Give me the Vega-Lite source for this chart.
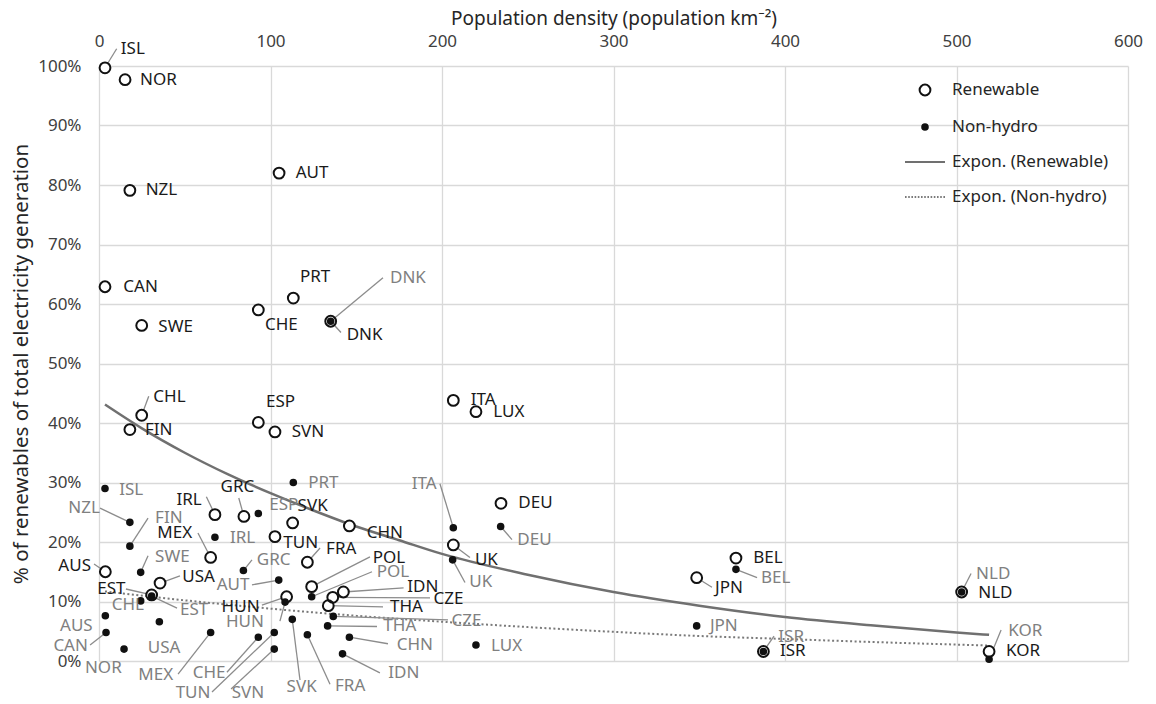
{
  "$schema": "https://vega.github.io/schema/vega-lite/v6.json",
  "width": 1029,
  "height": 595,
  "autosize": {"type": "none"},
  "padding": {"left": 99, "top": 66, "right": 28, "bottom": 43},
  "background": "white",
  "config": {
    "font": "Noto Sans",
    "view": {"stroke": null},
    "axis": {
      "grid": true,
      "gridColor": "#d9d9d9",
      "gridWidth": 1.3,
      "domain": false,
      "ticks": false,
      "labelFlush": false,
      "labelFontSize": 17,
      "labelColor": "#404040",
      "titleFontSize": 19,
      "titleFontWeight": "normal",
      "titleColor": "#262626"
    },
    "legend": {
      "orient": "none",
      "legendX": 805,
      "legendY": 3,
      "labelFontSize": 17,
      "labelColor": "#262626",
      "labelOffset": 6,
      "symbolSize": 1600,
      "symbolStrokeWidth": 2,
      "rowPadding": 6
    }
  },
  "datasets": {
    "pts": [
      {"country": "ISL", "series": "Renewable", "density": 3.5, "share": 99.7, "lx": 12.7, "ly": 102.8, "ex": 10.3, "ey": 102.9},
      {"country": "NOR", "series": "Renewable", "density": 15.2, "share": 97.7, "lx": 23.9, "ly": 97.7},
      {"country": "NZL", "series": "Renewable", "density": 18.0, "share": 79.1, "lx": 27.2, "ly": 79.1},
      {"country": "AUT", "series": "Renewable", "density": 105.0, "share": 82.0, "lx": 114.7, "ly": 82.0},
      {"country": "CAN", "series": "Renewable", "density": 3.5, "share": 62.9, "lx": 14.2, "ly": 62.9},
      {"country": "SWE", "series": "Renewable", "density": 24.9, "share": 56.4, "lx": 34.6, "ly": 56.2},
      {"country": "CHE", "series": "Renewable", "density": 92.9, "share": 59.0, "lx": 96.8, "ly": 56.5},
      {"country": "PRT", "series": "Renewable", "density": 113.3, "share": 61.0, "lx": 117.2, "ly": 64.5},
      {"country": "DNK", "series": "Renewable", "density": 135.1, "share": 57.1, "lx": 144.4, "ly": 54.8, "ex": 141.1, "ey": 55.2},
      {"country": "CHL", "series": "Renewable", "density": 24.9, "share": 41.3, "lx": 31.7, "ly": 44.4, "ex": 29.0, "ey": 44.5},
      {"country": "FIN", "series": "Renewable", "density": 18.0, "share": 38.9, "lx": 26.8, "ly": 38.9},
      {"country": "ESP", "series": "Renewable", "density": 92.9, "share": 40.1, "lx": 97.4, "ly": 43.6},
      {"country": "SVN", "series": "Renewable", "density": 102.6, "share": 38.5, "lx": 112.4, "ly": 38.5},
      {"country": "ITA", "series": "Renewable", "density": 206.6, "share": 43.8, "lx": 216.7, "ly": 43.8},
      {"country": "LUX", "series": "Renewable", "density": 219.8, "share": 41.9, "lx": 229.9, "ly": 41.9},
      {"country": "DEU", "series": "Renewable", "density": 234.4, "share": 26.5, "lx": 244.5, "ly": 26.5},
      {"country": "IRL", "series": "Renewable", "density": 67.6, "share": 24.6, "lx": 45.2, "ly": 27.1, "ex": 62.6, "ey": 27.6},
      {"country": "GRC", "series": "Renewable", "density": 84.5, "share": 24.3, "lx": 70.9, "ly": 29.3, "ex": 81.5, "ey": 27.4},
      {"country": "SVK", "series": "Renewable", "density": 112.9, "share": 23.2, "lx": 115.8, "ly": 26.0},
      {"country": "CHN", "series": "Renewable", "density": 146.0, "share": 22.7, "lx": 156.1, "ly": 21.5},
      {"country": "TUN", "series": "Renewable", "density": 102.6, "share": 20.9, "lx": 107.5, "ly": 19.9},
      {"country": "MEX", "series": "Renewable", "density": 65.1, "share": 17.4, "lx": 34.0, "ly": 21.5, "ex": 57.7, "ey": 21.5},
      {"country": "FRA", "series": "Renewable", "density": 121.5, "share": 16.6, "lx": 132.4, "ly": 18.8, "ex": 128.9, "ey": 19.0},
      {"country": "AUS", "series": "Renewable", "density": 3.7, "share": 15.0, "lx": -23.7, "ly": 16.0, "ex": -2.9, "ey": 16.3},
      {"country": "USA", "series": "Renewable", "density": 35.6, "share": 13.1, "lx": 48.6, "ly": 14.2, "ex": 47.2, "ey": 14.3},
      {"country": "EST", "series": "Renewable", "density": 30.7, "share": 11.1, "lx": -1.0, "ly": 12.1, "ex": 15.7, "ey": 12.1},
      {"country": "POL", "series": "Renewable", "density": 124.0, "share": 12.5, "lx": 159.6, "ly": 17.3, "ex": 158.0, "ey": 17.5},
      {"country": "HUN", "series": "Renewable", "density": 109.4, "share": 10.8, "lx": 71.5, "ly": 9.1, "ex": 95.0, "ey": 9.4},
      {"country": "IDN", "series": "Renewable", "density": 142.5, "share": 11.6, "lx": 179.8, "ly": 12.4, "ex": 177.6, "ey": 12.3},
      {"country": "CZE", "series": "Renewable", "density": 136.3, "share": 10.7, "lx": 195.0, "ly": 10.4, "ex": 193.0, "ey": 10.6},
      {"country": "THA", "series": "Renewable", "density": 133.7, "share": 9.3, "lx": 169.7, "ly": 9.1, "ex": 165.6, "ey": 9.1},
      {"country": "UK", "series": "Renewable", "density": 206.6, "share": 19.5, "lx": 219.2, "ly": 17.0, "ex": 216.3, "ey": 17.4},
      {"country": "JPN", "series": "Renewable", "density": 348.5, "share": 14.0, "lx": 359.2, "ly": 12.3, "ex": 357.4, "ey": 12.4},
      {"country": "BEL", "series": "Renewable", "density": 371.4, "share": 17.3, "lx": 381.5, "ly": 17.3},
      {"country": "NLD", "series": "Renewable", "density": 503.0, "share": 11.6, "lx": 512.7, "ly": 11.4},
      {"country": "ISR", "series": "Renewable", "density": 387.4, "share": 1.6, "lx": 397.1, "ly": 1.6},
      {"country": "KOR", "series": "Renewable", "density": 519.0, "share": 1.6, "lx": 528.9, "ly": 1.6},
      {"country": "ISL", "series": "Non-hydro", "density": 3.5, "share": 29.0, "lx": 11.8, "ly": 28.8},
      {"country": "NZL", "series": "Non-hydro", "density": 18.0, "share": 23.3, "lx": -17.9, "ly": 25.7, "ex": 0.6, "ey": 25.7},
      {"country": "FIN", "series": "Non-hydro", "density": 18.0, "share": 19.3, "lx": 32.7, "ly": 24.0, "ex": 28.6, "ey": 24.0},
      {"country": "SWE", "series": "Non-hydro", "density": 24.3, "share": 14.9, "lx": 32.7, "ly": 17.5, "ex": 28.6, "ey": 17.7},
      {"country": "IRL", "series": "Non-hydro", "density": 67.6, "share": 20.8, "lx": 76.4, "ly": 20.6},
      {"country": "MEX", "series": "Non-hydro", "density": 65.1, "share": 4.8, "lx": 22.9, "ly": -2.4, "ex": 46.1, "ey": -2.2},
      {"country": "GRC", "series": "Non-hydro", "density": 84.2, "share": 15.2, "lx": 92.0, "ly": 17.0, "ex": 89.2, "ey": 17.0},
      {"country": "ESP", "series": "Non-hydro", "density": 92.9, "share": 24.8, "lx": 99.3, "ly": 26.2},
      {"country": "PRT", "series": "Non-hydro", "density": 113.3, "share": 30.0, "lx": 122.0, "ly": 29.9},
      {"country": "AUT", "series": "Non-hydro", "density": 104.8, "share": 13.6, "lx": 68.6, "ly": 12.8, "ex": 89.2, "ey": 12.8},
      {"country": "HUN", "series": "Non-hydro", "density": 108.5, "share": 9.9, "lx": 74.0, "ly": 6.6, "ex": 105.5, "ey": 6.7},
      {"country": "AUS", "series": "Non-hydro", "density": 3.7, "share": 7.6, "lx": -22.7, "ly": 5.8},
      {"country": "CHL", "series": "Non-hydro", "density": 24.3, "share": 10.1, "lx": 7.4, "ly": 9.4},
      {"country": "CAN", "series": "Non-hydro", "density": 4.1, "share": 4.8, "lx": -26.6, "ly": 2.5, "ex": -5.2, "ey": 2.7},
      {"country": "NOR", "series": "Non-hydro", "density": 14.6, "share": 2.0, "lx": -8.2, "ly": -1.2},
      {"country": "USA", "series": "Non-hydro", "density": 35.2, "share": 6.6, "lx": 28.4, "ly": 2.2},
      {"country": "EST", "series": "Non-hydro", "density": 30.7, "share": 10.9, "lx": 47.2, "ly": 8.6, "ex": 45.5, "ey": 8.9},
      {"country": "CHE", "series": "Non-hydro", "density": 92.9, "share": 4.0, "lx": 54.6, "ly": -2.1, "ex": 74.6, "ey": -1.9},
      {"country": "TUN", "series": "Non-hydro", "density": 102.2, "share": 4.8, "lx": 44.7, "ly": -5.4, "ex": 65.9, "ey": -5.2},
      {"country": "SVN", "series": "Non-hydro", "density": 102.2, "share": 2.0, "lx": 77.4, "ly": -5.4, "ex": 77.0, "ey": -4.7},
      {"country": "SVK", "series": "Non-hydro", "density": 112.7, "share": 7.0, "lx": 109.4, "ly": -4.4, "ex": 117.2, "ey": -3.2},
      {"country": "FRA", "series": "Non-hydro", "density": 121.5, "share": 4.4, "lx": 137.6, "ly": -4.2, "ex": 134.7, "ey": -3.9},
      {"country": "POL", "series": "Non-hydro", "density": 124.0, "share": 10.8, "lx": 161.9, "ly": 14.9, "ex": 159.2, "ey": 15.0},
      {"country": "CZE", "series": "Non-hydro", "density": 136.6, "share": 7.5, "lx": 205.6, "ly": 6.8, "ex": 203.5, "ey": 6.9},
      {"country": "THA", "series": "Non-hydro", "density": 133.3, "share": 5.9, "lx": 165.8, "ly": 5.8, "ex": 162.1, "ey": 5.8},
      {"country": "CHN", "series": "Non-hydro", "density": 146.0, "share": 4.0, "lx": 173.6, "ly": 2.7, "ex": 168.5, "ey": 2.9},
      {"country": "IDN", "series": "Non-hydro", "density": 142.0, "share": 1.2, "lx": 168.7, "ly": -2.1, "ex": 163.8, "ey": -2.0},
      {"country": "ITA", "series": "Non-hydro", "density": 206.6, "share": 22.4, "lx": 182.3, "ly": 29.8, "ex": 198.8, "ey": 29.8},
      {"country": "DEU", "series": "Non-hydro", "density": 234.2, "share": 22.6, "lx": 243.9, "ly": 20.4, "ex": 240.8, "ey": 20.4},
      {"country": "UK", "series": "Non-hydro", "density": 206.2, "share": 17.0, "lx": 215.9, "ly": 13.2, "ex": 213.4, "ey": 13.2},
      {"country": "LUX", "series": "Non-hydro", "density": 219.8, "share": 2.7, "lx": 228.6, "ly": 2.6},
      {"country": "JPN", "series": "Non-hydro", "density": 348.5, "share": 5.9, "lx": 356.2, "ly": 5.8},
      {"country": "BEL", "series": "Non-hydro", "density": 371.4, "share": 15.4, "lx": 386.0, "ly": 13.9, "ex": 383.7, "ey": 14.0},
      {"country": "NLD", "series": "Non-hydro", "density": 503.0, "share": 11.6, "lx": 511.4, "ly": 14.7, "ex": 508.5, "ey": 14.7},
      {"country": "ISR", "series": "Non-hydro", "density": 387.4, "share": 1.6, "lx": 396.1, "ly": 4.1, "ex": 393.6, "ey": 4.2},
      {"country": "KOR", "series": "Non-hydro", "density": 519.0, "share": 0.3, "lx": 530.2, "ly": 5.1, "ex": 526.0, "ey": 5.2},
      {"country": "DNK", "series": "Non-hydro", "density": 135.1, "share": 57.1, "lx": 169.7, "ly": 64.3, "ex": 165.6, "ey": 64.4}
    ],
    "trend": [
      {"series": "Renewable", "density": 3.5, "share": 43.1},
      {"series": "Renewable", "density": 25, "share": 39.1},
      {"series": "Renewable", "density": 50, "share": 35.0},
      {"series": "Renewable", "density": 75, "share": 31.4},
      {"series": "Renewable", "density": 100, "share": 28.2},
      {"series": "Renewable", "density": 125, "share": 25.3},
      {"series": "Renewable", "density": 150, "share": 22.6},
      {"series": "Renewable", "density": 175, "share": 20.3},
      {"series": "Renewable", "density": 200, "share": 18.0},
      {"series": "Renewable", "density": 250, "share": 14.5},
      {"series": "Renewable", "density": 300, "share": 11.6},
      {"series": "Renewable", "density": 350, "share": 9.3},
      {"series": "Renewable", "density": 400, "share": 7.4},
      {"series": "Renewable", "density": 450, "share": 6.0},
      {"series": "Renewable", "density": 500, "share": 4.8},
      {"series": "Renewable", "density": 519, "share": 4.4},
      {"series": "Non-hydro", "density": 3.5, "share": 11.7},
      {"series": "Non-hydro", "density": 50, "share": 10.2},
      {"series": "Non-hydro", "density": 100, "share": 8.8},
      {"series": "Non-hydro", "density": 150, "share": 7.6},
      {"series": "Non-hydro", "density": 200, "share": 6.6},
      {"series": "Non-hydro", "density": 250, "share": 5.7},
      {"series": "Non-hydro", "density": 300, "share": 4.9},
      {"series": "Non-hydro", "density": 350, "share": 4.2},
      {"series": "Non-hydro", "density": 400, "share": 3.7},
      {"series": "Non-hydro", "density": 450, "share": 3.2},
      {"series": "Non-hydro", "density": 519, "share": 2.6}
    ]
  },
  "encoding": {
    "x": {
      "field": "density",
      "type": "quantitative",
      "scale": {"domain": [0, 600], "nice": false, "zero": false},
      "axis": {
        "orient": "top",
        "values": [0, 100, 200, 300, 400, 500, 600],
        "title": "Population density (population km⁻²)",
        "labelPadding": 16,
        "titlePadding": 4,
        "titleDx": -8
      }
    },
    "y": {
      "field": "share",
      "type": "quantitative",
      "scale": {"domain": [0, 100], "nice": false, "zero": true},
      "axis": {
        "values": [0, 10, 20, 30, 40, 50, 60, 70, 80, 90, 100],
        "labelExpr": "datum.value + '%'",
        "title": "% of renewables of total electricity generation",
        "titleFontSize": 20.5,
        "labelPadding": 18,
        "titlePadding": 6
      }
    }
  },
  "layer": [
    {
      "data": {"name": "trend"},
      "transform": [{"filter": "datum.series === 'Renewable'"}],
      "mark": {"type": "line", "color": "#707070", "strokeWidth": 2.5, "interpolate": "monotone"}
    },
    {
      "data": {"name": "trend"},
      "transform": [{"filter": "datum.series === 'Non-hydro'"}],
      "mark": {"type": "line", "color": "#7a7a7a", "strokeWidth": 2, "strokeDash": [2, 2.5], "interpolate": "monotone"}
    },
    {
      "data": {"name": "pts"},
      "transform": [{"filter": "isValid(datum.ex)"}],
      "mark": {"type": "rule", "color": "#8c8c8c", "strokeWidth": 1.3},
      "encoding": {
        "x2": {"field": "ex"},
        "y2": {"field": "ey"}
      }
    },
    {
      "data": {"name": "pts"},
      "transform": [{"filter": "datum.series === 'Renewable'"}],
      "mark": {"type": "point", "filled": true, "color": "white", "shape": "circle", "size": 85, "opacity": 1, "strokeWidth": 0}
    },
    {
      "data": {"name": "pts"},
      "mark": {"type": "point", "size": 1600, "strokeWidth": 2, "opacity": 1},
      "encoding": {
        "shape": {
          "field": "series",
          "type": "nominal",
          "title": null,
          "scale": {
            "domain": ["Renewable", "Non-hydro", "Expon. (Renewable)", "Expon. (Non-hydro)"],
            "range": [
              "M0.27,0A0.27,0.27,0,1,1,-0.27,0A0.27,0.27,0,1,1,0.27,0Z",
              "M0.14,0A0.14,0.14,0,1,1,-0.14,0A0.14,0.14,0,1,1,0.14,0Z",
              "M-1,0H1",
              "M-1,0H-0.92M-0.84,0H-0.76M-0.68,0H-0.6M-0.52,0H-0.44M-0.36,0H-0.28M-0.2,0H-0.12M-0.04,0H0.04M0.12,0H0.2M0.28,0H0.36M0.44,0H0.52M0.6,0H0.68M0.76,0H0.84M0.92,0H1"
            ]
          }
        },
        "fill": {
          "field": "series",
          "type": "nominal",
          "title": null,
          "scale": {
            "domain": ["Renewable", "Non-hydro", "Expon. (Renewable)", "Expon. (Non-hydro)"],
            "range": ["transparent", "#111111", "transparent", "transparent"]
          }
        },
        "stroke": {
          "field": "series",
          "type": "nominal",
          "title": null,
          "scale": {
            "domain": ["Renewable", "Non-hydro", "Expon. (Renewable)", "Expon. (Non-hydro)"],
            "range": ["#111111", "#111111", "#707070", "#7a7a7a"]
          }
        }
      }
    },
    {
      "data": {"name": "pts"},
      "mark": {"type": "text", "align": "left", "baseline": "middle", "fontSize": 17},
      "encoding": {
        "x": {"field": "lx", "type": "quantitative"},
        "y": {"field": "ly", "type": "quantitative"},
        "text": {"field": "country"},
        "color": {
          "condition": {"test": "datum.series === 'Renewable'", "value": "#1a1a1a"},
          "value": "#808080"
        }
      }
    }
  ]
}
